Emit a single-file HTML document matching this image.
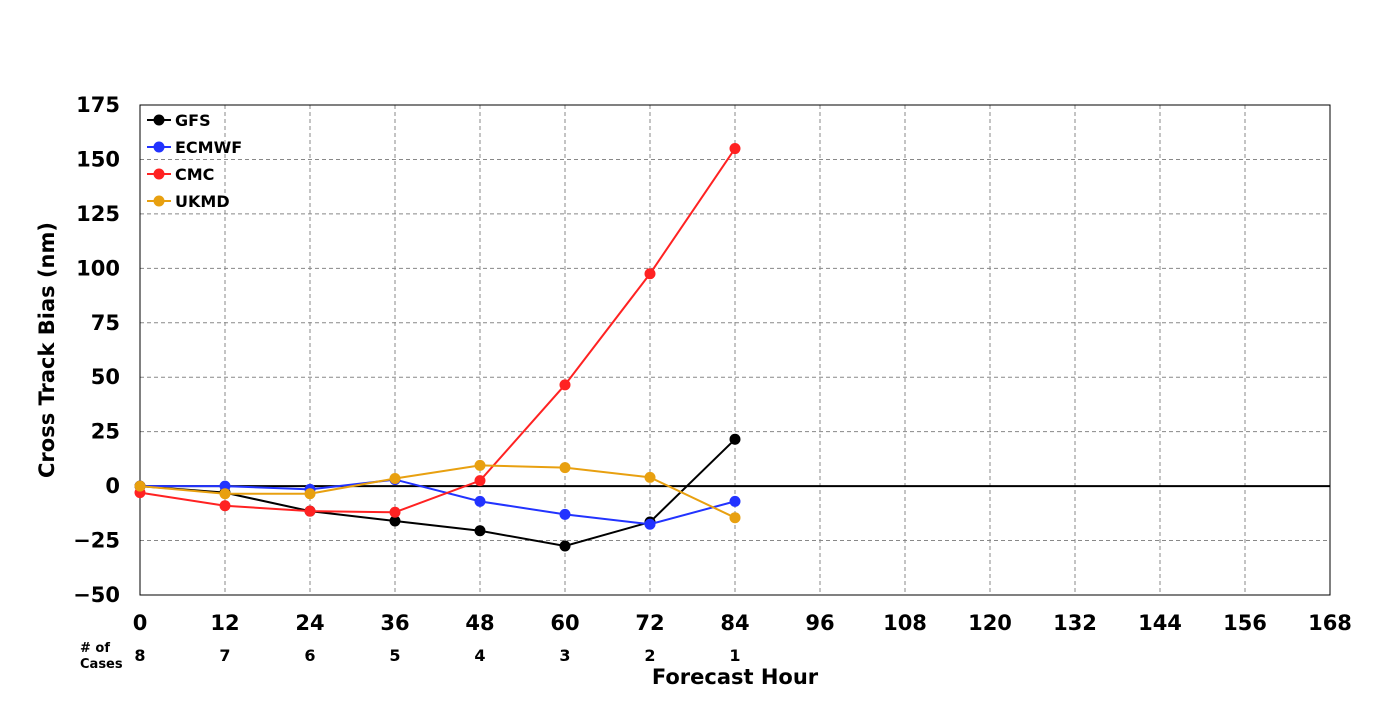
<!DOCTYPE html>
<html><head><meta charset="utf-8"><style>
body{margin:0;background:#fff;font-family:"DejaVu Sans","Liberation Sans",sans-serif;}
svg text{font-family:"DejaVu Sans","Liberation Sans",sans-serif;font-weight:bold;}
</style></head><body>
<svg id="chart" width="1400" height="700"></svg>
<script>
const hours=[0,12,24,36,48,60,72,84,96,108,120,132,144,156,168];
const yTicks=[-50,-25,0,25,50,75,100,125,150,175];
const cases=[8,7,6,5,4,3,2,1];
const caseHours=[0,12,24,36,48,60,72,84];
const gfs=[0,-3,-11.5,-16,-20.5,-27.5,-16.5,21.5];
const ecmwf=[0,0,-1.5,3,-7,-13,-17.5,-7];
const cmc=[-3,-9,-11.5,-12,2.5,46.5,97.5,155];
const ukmd=[0,-3.5,-3.5,3.5,9.5,8.5,4,-14.5];
const seriesNames=["GFS","ECMWF","CMC","UKMD"];
const seriesColors=["#000000","#2233ff","#ff2222","#e8a010"];
const seriesData=[gfs,ecmwf,cmc,ukmd];

const L=140,R=1330,T=105,B=595;
const x=h=>L+(h-0)/(168-0)*(R-L);
const y=v=>B-(v+50)/(225)*(B-T);
const svg=document.getElementById('chart');
const NS='http://www.w3.org/2000/svg';
function mk(tag,attrs,parent){const e=document.createElementNS(NS,tag);for(const k in attrs)e.setAttribute(k,attrs[k]);(parent||svg).appendChild(e);return e;}

// grid
hours.forEach(h=>{const l=mk('line',{x1:x(h),x2:x(h),y1:T,y2:B,stroke:'#888','stroke-dasharray':'4,3','stroke-width':1});

});
yTicks.forEach(v=>{const l=mk('line',{x1:L,x2:R,y1:y(v),y2:y(v),stroke:'#888','stroke-dasharray':'4,3','stroke-width':1});

});
const z=mk('line',{x1:L,x2:R,y1:y(0),y2:y(0),stroke:'#000','stroke-width':2});


const fr=mk('rect',{x:L,y:T,width:R-L,height:B-T,fill:'none',stroke:'#000','stroke-width':1});



// ticks
hours.forEach(h=>{const t=mk('text',{x:x(h),y:630,'text-anchor':'middle','font-size':21});t.textContent=h;

});
yTicks.forEach(v=>{const t=mk('text',{x:120,y:y(v)+7,'text-anchor':'end','font-size':21});t.textContent=(v<0?'\u2212'+(-v):v);

});
caseHours.forEach((h,i)=>{const t=mk('text',{x:x(h),y:661,'text-anchor':'middle','font-size':16});t.textContent=cases[i];

});
const c1=mk('text',{x:80,y:652,'font-size':13});c1.textContent='# of';


const c2=mk('text',{x:80,y:668,'font-size':13});c2.textContent='Cases';


const xt=mk('text',{x:735,y:684,'text-anchor':'middle','font-size':21});xt.textContent='Forecast Hour';


const yt=mk('text',{x:0,y:0,'text-anchor':'middle','font-size':21,transform:'translate(54,350) rotate(-90)'});yt.textContent='Cross Track Bias (nm)';



// series
seriesData.forEach((d,si)=>{
 const g=mk('g',{});
 
 
 const pts=d.map((v,i)=>x(caseHours[i])+','+y(v)).join(' ');
 const pl=mk('polyline',{points:pts,fill:'none',stroke:seriesColors[si],'stroke-width':2},g);
 
 
 d.forEach((v,i)=>{const c=mk('circle',{cx:x(caseHours[i]),cy:y(v),r:5.5,fill:seriesColors[si]},g);
 
 });
 // legend
 const ly=120+si*27;
 const lg=mk('g',{});
 
 
 mk('line',{x1:147,x2:171,y1:ly,y2:ly,stroke:seriesColors[si],'stroke-width':2},lg);
 mk('circle',{cx:159,cy:ly,r:5.5,fill:seriesColors[si]},lg);
 const lt=mk('text',{x:175,y:ly+6,'font-size':16},lg);lt.textContent=seriesNames[si];
});
</script>
</body></html>
